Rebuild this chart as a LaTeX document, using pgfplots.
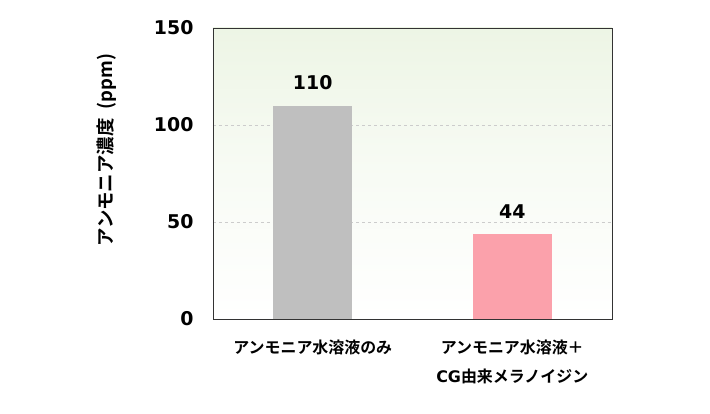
\documentclass[border=0pt]{standalone}
\usepackage{pgfplots}
\pgfplotsset{compat=1.18}
\usepackage{fontspec}
\setmainfont{DejaVu Sans}
\newfontfamily\jp{Noto Sans CJK JP}[BoldFont={* Bold}]
\definecolor{barGray}{HTML}{BFBFBF}
\definecolor{barPink}{HTML}{FBA1AB}
\definecolor{bgGreen}{HTML}{EDF5E5}
\begin{document}
\begin{tikzpicture}[x=1bp,y=1bp]
\begin{axis}[
  at={(0,0)}, anchor=south west,
  scale only axis, width=399bp, height=291bp,
  xmin=-0.5, xmax=1.5, ymin=0, ymax=150,
  ytick={0,50,100,150},
  xtick={0,1},
  xticklabels={{\jp\bfseries アンモニア水溶液のみ},{\jp\bfseries アンモニア水溶液＋\\\bfseries CG{\jp 由来メラノイジン}}},
  xticklabel style={align=center, font=\fontsize{16}{30}\selectfont\bfseries, yshift=-17bp},
  yticklabel style={font=\fontsize{19}{22}\selectfont\bfseries, xshift=-16bp},
  /pgf/number format/assume math mode=true,
  major tick length=0pt,
  axis line style={draw=black!80, line width=0.8pt},
  ymajorgrids, grid style={dashed, black!20, line width=0.5pt},
  axis background/.style={shade, top color=bgGreen, bottom color=white, middle color=white!60!bgGreen},
  ylabel={\jp\bfseries アンモニア濃度\hspace{9bp}(ppm)},
  ylabel style={font=\fontsize{18.5}{20}\selectfont\bfseries, anchor=center, at={(axis description cs:-0.266,0.58)}},
  axis on top=false,
  bar width=79bp,
  nodes near coords,
  every node near coord/.append style={font=\fontsize{19}{22}\selectfont\bfseries, yshift=12bp, text=black},
]
\addplot[ybar, fill=barGray, draw=none, bar shift=0pt] coordinates {(0,110)};
\addplot[ybar, fill=barPink, draw=none, bar shift=0pt] coordinates {(1,44)};
\end{axis}
\path[use as bounding box] (-213bp,-95bp) rectangle (497bp,319bp);
\end{tikzpicture}
\end{document}
